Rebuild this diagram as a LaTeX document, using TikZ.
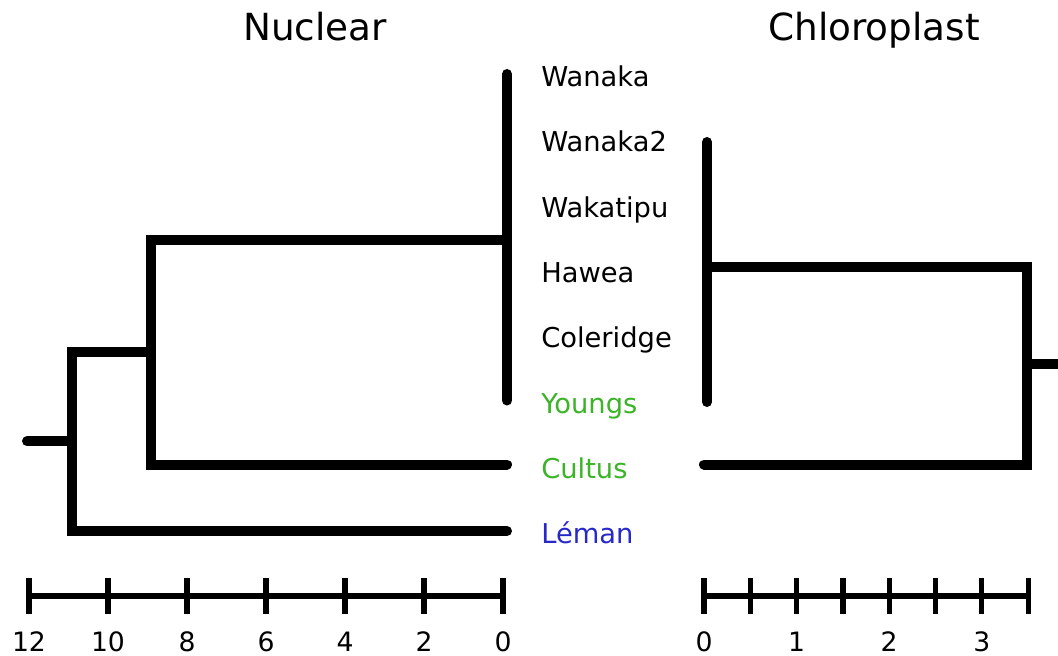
\documentclass[tikz,border=0pt]{standalone}
\usepackage{fontspec}
\setmainfont{DejaVu Sans}
\definecolor{lakegreen}{RGB}{60,180,40}
\definecolor{lakeblue}{RGB}{40,40,200}
\tikzset{
	branch/.style={line width=7.5pt, line cap=round},
	scalebar/.style={line width=3.9pt},
	taxon/.style={anchor=base west, inner sep=0pt, font=\fontsize{20.5}{24}\selectfont},
	ticklabel/.style={anchor=base, inner sep=0pt, font=\fontsize{20}{24}\selectfont},
	treetitle/.style={anchor=base, inner sep=0pt, font=\fontsize{28}{34}\selectfont}
}
\begin{document}
\begin{tikzpicture}[x=0.75pt,y=-0.75pt]
		\useasboundingbox (0,0) rectangle (1058,656);
		\node[treetitle] (nuctitle) at (315,41) {Nuclear};
		\node[treetitle] (chltitle) at (874,41) {Chloroplast};
		
		% taxa, one row each
		\node[taxon] (wanaka) at (541,86.5) {Wanaka};
		\node[taxon] (wanakaII) at (541,151.8) {Wanaka2};
		\node[taxon] (wakatipu) at (541,217.1) {Wakatipu};
		\node[taxon] (hawea) at (541,282.4) {Hawea};
		\node[taxon] (coleridge) at (541,347.7) {Coleridge};
		\node[taxon, text=lakegreen] (youngs) at (541,413) {Youngs};
		\node[taxon, text=lakegreen] (cultus) at (541,478.3) {Cultus};
		\node[taxon, text=lakeblue] (leman) at (541,543.6) {Léman};
		
		% nuclear tree
		\coordinate (nWanaka) at (507,74); \coordinate (nYoungs) at (507,400.5);
		\coordinate (nCultus) at (507,464.5); \coordinate (nLeman) at (507,531.1);
		\coordinate (nA) at (507,240); \coordinate (nB) at (151,352.5);
		\coordinate (nC) at (72,441.3); \coordinate (nRoot) at (27,441.3);
		\draw[branch] (nWanaka) -- (nYoungs);
		\draw[branch] (nA) -| (nB) |- (nCultus);
		\draw[branch] (nB) -| (nC) |- (nLeman);
		\draw[branch] (nC) -- (nRoot);
		
		% chloroplast tree
		\coordinate (cWanakaII) at (707,142); \coordinate (cYoungs) at (707,402);
		\coordinate (cCultus) at (704,464.5);
		\coordinate (cA) at (707,267.5); \coordinate (cB) at (1027,364);
		\coordinate (cRoot) at (1070,364);
		\draw[branch] (cWanakaII) -- (cYoungs);
		\draw[branch] (cA) -| (cB) |- (cCultus);
		\draw[branch] (cB) -- (cRoot);
		
		% scale bars
		\draw[scalebar] (29,596) -- (503,596);
		\foreach \v in {0,2,...,12} {
			\draw[scalebar] ({503-39.5*\v},578) -- ({503-39.5*\v},614);
			\node[ticklabel] (nt\v) at ({503-39.5*\v},651) {\v};
		}
		\draw[scalebar] (704,596) -- (1028,596);
		\foreach \i in {0,...,7}
			\draw[scalebar] ({704+46.3*\i},578) -- ({704+46.3*\i},614);
		\foreach \v in {0,1,2,3}
			\node[ticklabel] (ct\v) at ({704+92.6*\v},651) {\v};
\end{tikzpicture}
\end{document}
